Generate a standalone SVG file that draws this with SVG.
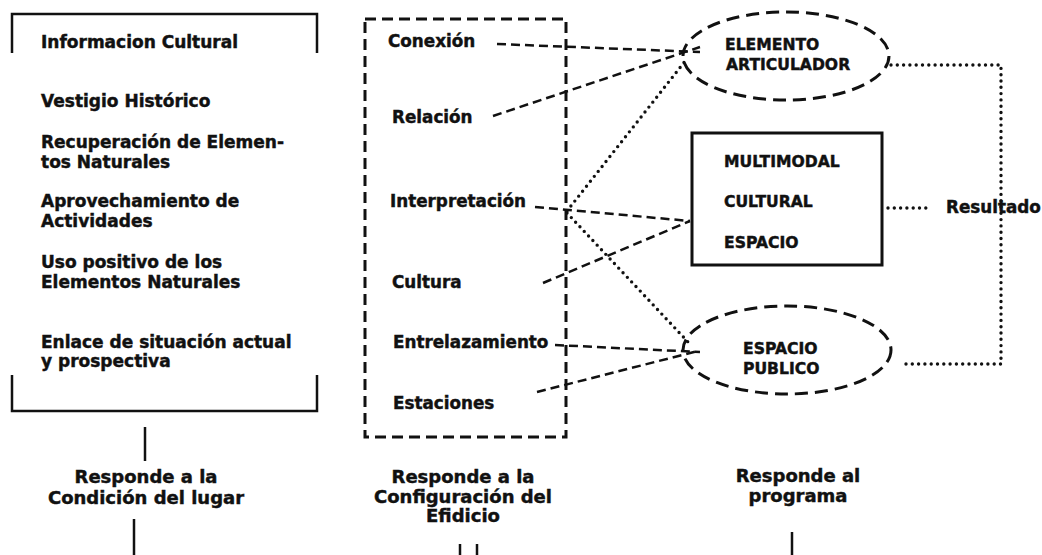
<svg xmlns="http://www.w3.org/2000/svg" width="1042" height="555" viewBox="0 0 1042 555">
<style>
text{font-family:"DejaVu Sans","Liberation Sans",sans-serif;font-weight:bold;fill:#111;stroke:#111;stroke-width:0.45;}
.t{font-size:17px;}
.n{font-size:16.8px;}
.c{font-size:15.6px;}
.m{text-anchor:middle;font-size:18px;}
.solid{fill:none;stroke:#111;stroke-width:2.5;}
.dash{fill:none;stroke:#111;stroke-width:2.5;stroke-dasharray:9 5;}
.dot{fill:none;stroke:#111;stroke-width:3.4;stroke-dasharray:0 6.3;stroke-linecap:round;}
.frame{fill:none;stroke:#111;stroke-width:3;stroke-dasharray:11 6;}
.ell{fill:none;stroke:#111;stroke-width:3;stroke-dasharray:13 7;}
</style>
<rect width="1042" height="555" fill="#fff"/>
<g id="connectors">
<line class="dash" x1="497" y1="44" x2="700" y2="52"/>
<line class="dash" x1="493" y1="116" x2="700" y2="47"/>
<line class="dash" x1="535" y1="207" x2="690" y2="221"/>
<line class="dash" x1="543" y1="283" x2="690" y2="221"/>
<line class="dash" x1="555" y1="345" x2="700" y2="352"/>
<line class="dash" x1="537" y1="392" x2="698" y2="351"/>
<line class="dot" x1="567" y1="211" x2="686" y2="60"/>
<line class="dot" x1="567" y1="213" x2="688" y2="342"/>
<path class="dot" d="M891,65 H1001 V364 H905"/>
<line class="dot" x1="888" y1="208" x2="932" y2="208"/>
<line class="solid" x1="145" y1="427" x2="145" y2="461"/>
<line class="solid" x1="134" y1="519" x2="134" y2="555"/>
<line class="solid" x1="460" y1="544" x2="460" y2="555"/>
<line class="solid" x1="477" y1="544" x2="477" y2="555"/>
<line class="solid" x1="792" y1="532" x2="792" y2="555"/>
</g>
<g id="condicion">
<path class="solid" d="M12,53 V14 H317 V53"/>
<path class="solid" d="M12,375 V411 H317 V375"/>
<text class="t" x="41" y="48">Informacion Cultural</text>
<text class="t" x="41" y="107">Vestigio Histórico</text>
<text class="t" x="41" y="148">Recuperación de Elemen-</text>
<text class="t" x="41" y="168">tos Naturales</text>
<text class="t" x="41" y="207">Aprovechamiento de</text>
<text class="t" x="41" y="227">Actividades</text>
<text class="t" x="41" y="268">Uso positivo de los</text>
<text class="t" x="41" y="288">Elementos Naturales</text>
<text class="t" x="41" y="348">Enlace de situación actual</text>
<text class="t" x="41" y="367">y prospectiva</text>
</g>
<g id="configuracion">
<rect class="frame" x="365" y="19" width="201" height="418"/>
<text class="n" x="388" y="47">Conexión</text>
<text class="n" x="392" y="123">Relación</text>
<text class="n" x="390" y="207">Interpretación</text>
<text class="n" x="392" y="288">Cultura</text>
<text class="n" x="393" y="348">Entrelazamiento</text>
<text class="n" x="393" y="409">Estaciones</text>
</g>
<g id="elemento-articulador">
<ellipse class="ell" cx="786" cy="56" rx="103" ry="44"/>
<text class="c" x="725" y="50">ELEMENTO</text>
<text class="c" x="726" y="70">ARTICULADOR</text>
</g>
<g id="multimodal">
<rect x="692" y="133" width="190" height="132" fill="none" stroke="#111" stroke-width="3"/>
<text class="c" x="724" y="167">MULTIMODAL</text>
<text class="c" x="724" y="207">CULTURAL</text>
<text class="c" x="724" y="248">ESPACIO</text>
</g>
<g id="espacio-publico">
<ellipse class="ell" cx="787" cy="350" rx="104" ry="44"/>
<text class="c" x="743" y="354">ESPACIO</text>
<text class="c" x="743" y="374">PUBLICO</text>
</g>
<g id="resultado">
<text class="n" x="946" y="213">Resultado</text>
</g>
<g id="labels">
<text class="m" x="146" y="483">Responde a la</text>
<text class="m" x="146" y="504">Condición del lugar</text>
<text class="m" x="463" y="483">Responde a la</text>
<text class="m" x="463" y="503">Configuración del</text>
<text class="m" x="463" y="522">Efidicio</text>
<text class="m" x="798" y="482">Responde al</text>
<text class="m" x="798" y="502">programa</text>
</g>
</svg>
